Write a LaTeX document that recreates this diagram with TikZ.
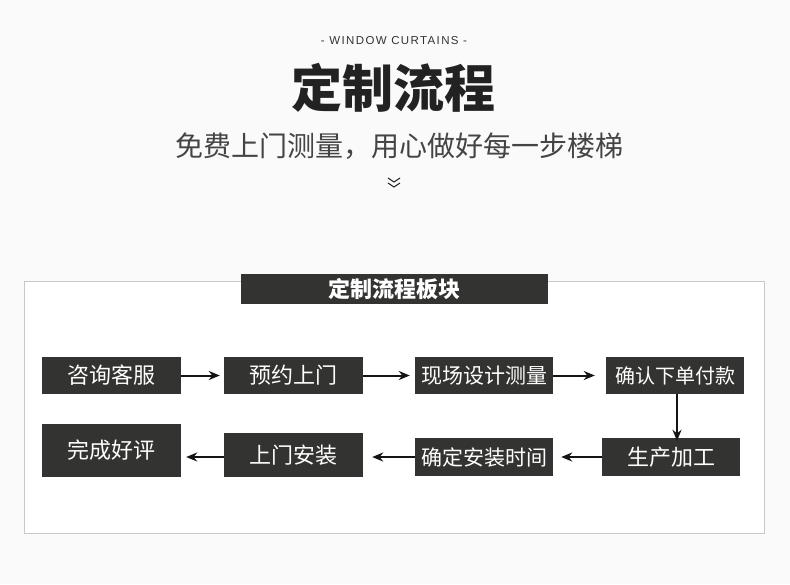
\documentclass[tikz,border=0pt]{standalone}
\usepackage{fontspec}
\setmainfont{Noto Sans CJK SC}
\newfontfamily\cjk{Noto Sans CJK SC}
\newfontfamily\latinsans{Liberation Sans}
\usetikzlibrary{arrows.meta}
\definecolor{boxfill}{HTML}{333331}
\definecolor{bgcol}{HTML}{FAFAFA}
\definecolor{framecol}{HTML}{C8C8C8}
\tikzset{
  stepbox/.style={fill=boxfill, draw=none, text=white, inner sep=0pt, font=\cjk\fontsize{22}{24}\selectfont},
  flow/.style={-{Stealth[length=11pt,width=9pt,inset=3.5pt]}, line width=2pt, draw=black!92},
}
\begin{document}
\begin{tikzpicture}[x=1pt,y=-1pt]
\useasboundingbox (0,0) rectangle (790,584);
\fill[bgcol] (0,0) rectangle (790,584);
% header
\node (eng) at (394,41) {\latinsans\fontsize{11.5}{13}\selectfont\addfontfeatures{LetterSpace=12}\color[HTML]{333333}- WINDOW CURTAINS -};
\node (title) at (393,88) {\cjk\bfseries\fontsize{51}{56}\selectfont\color[HTML]{222222}定制流程};
\node (sub) at (399,146) {\cjk\fontsize{28}{32}\selectfont\color[HTML]{444444}免费上门测量，用心做好每一步楼梯};
\coordinate (chev) at (394,183);
\draw[line width=1pt, color=black!85] ([shift={(-6,-5)}]chev) -- ([shift={(0,-1)}]chev) -- ([shift={(6,-5)}]chev);
\draw[line width=1pt, color=black!85] ([shift={(-6,0)}]chev) -- ([shift={(0,4)}]chev) -- ([shift={(6,0)}]chev);
% frame
\draw[framecol, line width=1pt, fill=white] (24,281) rectangle (764,533);
\node[stepbox, minimum width=307pt, minimum height=30pt, font=\cjk\bfseries\fontsize{22}{24}\selectfont] (head) at (394.5,289) {定制流程板块};
% row 1
\node[stepbox, minimum width=139pt, minimum height=37pt] (a) at (111.5,375.5) {咨询客服};
\node[stepbox, minimum width=139pt, minimum height=37pt] (b) at (293.5,375.5) {预约上门};
\node[stepbox, minimum width=138pt, minimum height=37pt, font=\cjk\fontsize{21}{24}\selectfont] (c) at (484,375.5) {现场设计测量};
\node[stepbox, minimum width=138pt, minimum height=37pt, font=\cjk\fontsize{20}{24}\selectfont] (d) at (675,375.5) {确认下单付款};
% row 2
\node[stepbox, minimum width=138pt, minimum height=38pt] (e) at (671,457) {生产加工};
\node[stepbox, minimum width=138pt, minimum height=38pt, font=\cjk\fontsize{21}{24}\selectfont] (f) at (484,457) {确定安装时间};
\node[stepbox, minimum width=139pt, minimum height=44pt] (g) at (293.5,455) {上门安装};
\node[stepbox, minimum width=139pt, minimum height=53pt] (h) at (111.5,450.5) {完成好评};
% arrows
\draw[flow] (a.east) -- ([xshift=-4pt]b.west);
\draw[flow] (b.east) -- ([xshift=-5pt]c.west);
\draw[flow] (c.east) -- ([xshift=-11pt]d.west);
\draw[flow] ([xshift=6pt]e.north |- d.south) -- ([xshift=6pt,yshift=-3pt]e.north);
\draw[flow] (e.west) -- ([xshift=8pt]f.east);
\draw[flow] (f.west |- e.west) -- ([xshift=9pt]g.east |- e.west);
\draw[flow] (g.west |- e.west) -- ([xshift=5pt]h.east |- e.west);
\end{tikzpicture}
\end{document}
